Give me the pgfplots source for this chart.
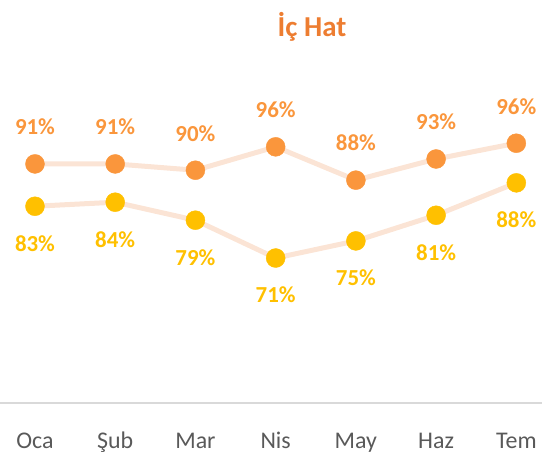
\documentclass[border=0pt]{standalone}
\usepackage{pgfplots}
\usepackage{pgfplotstable}
\usepackage{fontspec}
\setmainfont{Carlito}
\pgfplotsset{compat=1.18}
\definecolor{titleorange}{RGB}{237,125,49}
\definecolor{dotorange}{RGB}{250,150,60}
\definecolor{dotyellow}{RGB}{255,192,0}
\definecolor{peach}{RGB}{251,228,213}
\definecolor{axisgray}{RGB}{217,217,217}
\definecolor{ticktext}{RGB}{89,89,89}

\pgfplotstableread{
x o ol y yl
0 91.8 91 82.4 83
1 91.8 91 83.3 84
2 90.4 90 79.3 79
3 95.6 96 70.9 71
4 88.2 88 74.7 75
5 92.9 93 80.4 81
6 96.4 96 87.6 88
}\data

\begin{document}
\begin{tikzpicture}
  \useasboundingbox (0,0) rectangle (542bp,457bp);
  \node[font=\bfseries\fontsize{29}{29}\selectfont, text=titleorange] at (312bp,430bp) {İç Hat};
  \begin{axis}[
    at={(0,54bp)}, anchor=south west,
    width=542bp, height=303bp, scale only axis,
    xmin=-0.436, xmax=6.32,
    ymin=38.7, ymax=106,
    axis x line*=bottom, axis y line=none,
    x axis line style={draw=axisgray, line width=1.5bp, -},
    xtick={0,...,6},
    xticklabels={Oca,Şub,Mar,Nis,May,Haz,Tem},
    xtick style={draw=none},
    xticklabel style={anchor=base, yshift=-45bp, text=ticktext,
      font=\fontsize{24}{24}\selectfont},
    clip=false,
  ]
    \addplot[peach, line width=5bp, no marks] table[x=x, y=o] {\data};
    \addplot[peach, line width=5bp, no marks] table[x=x, y=y] {\data};
    \addplot[only marks, mark=*, mark size=9.5bp,
      mark options={fill=dotorange, draw=dotorange},
      point meta=explicit symbolic,
      nodes near coords={\pgfplotspointmeta\%},
      nodes near coords style={font=\bfseries\fontsize{23}{23}\selectfont,
        text=dotorange, anchor=center, yshift=37bp}]
      table[x=x, y=o, meta=ol] {\data};
    \addplot[only marks, mark=*, mark size=9.5bp,
      mark options={fill=dotyellow, draw=dotyellow},
      point meta=explicit symbolic,
      nodes near coords={\pgfplotspointmeta\%},
      nodes near coords style={font=\bfseries\fontsize{23}{23}\selectfont,
        text=dotyellow, anchor=center, yshift=-37bp}]
      table[x=x, y=y, meta=yl] {\data};
  \end{axis}
\end{tikzpicture}
\end{document}
